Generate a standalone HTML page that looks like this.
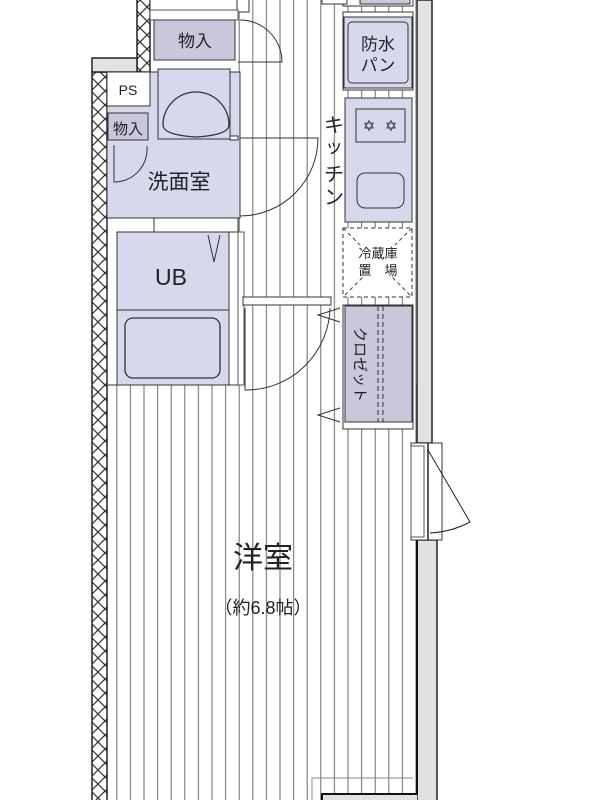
<!DOCTYPE html>
<html><head><meta charset="utf-8"><style>
html,body{margin:0;padding:0;background:#fff;}
svg{display:block}
text{font-family:"Liberation Sans","Noto Sans CJK JP",sans-serif;fill:#222}
</style></head><body>
<svg width="600" height="800" viewBox="0 0 600 800" xmlns="http://www.w3.org/2000/svg">
<defs>
<pattern id="hx" width="14" height="14" patternUnits="userSpaceOnUse">
<rect width="14" height="14" fill="#fff"/>
<path d="M0 0L14 14M14 0L0 14" stroke="#333" stroke-width="1.2"/>
</pattern>
<pattern id="st" x="2" width="13.6" height="10" patternUnits="userSpaceOnUse">
<rect width="13.6" height="10" fill="#fff"/>
<line x1="6" y1="0" x2="6" y2="10" stroke="#777" stroke-width="1.1"/>
</pattern>
</defs>
<rect x="106" y="385" width="311" height="415" fill="url(#st)"/>
<rect x="237" y="0" width="110" height="400" fill="url(#st)"/>
<rect x="340" y="0" width="76" height="800" fill="url(#st)"/>
<rect x="417" y="0" width="15" height="443" fill="#e2e2e2" stroke="#222" stroke-width="1.5"/>
<rect x="417" y="540" width="20" height="262" fill="#e2e2e2" stroke="#222" stroke-width="1.5"/>
<path d="M312 800V778H413" fill="none" stroke="#888" stroke-width="1"/>
<path d="M322 800V794H417V540" fill="none" stroke="#111" stroke-width="2"/>
<rect x="323" y="795" width="94" height="6" fill="#e2e2e2"/>
<rect x="92" y="72" width="15" height="730" fill="url(#hx)" stroke="#222" stroke-width="1.5"/>
<rect x="137" y="-2" width="13" height="74" fill="url(#hx)" stroke="#222" stroke-width="1.5"/>
<rect x="92" y="58" width="45" height="14" fill="#e2e2e2" stroke="#222" stroke-width="1.5"/>
<rect x="150" y="-2" width="87" height="12" fill="#fff" stroke="#333"/>
<rect x="237" y="-2" width="12" height="14" fill="#fff" stroke="#333"/>
<rect x="150" y="10" width="88" height="10" fill="#fff" stroke="#555"/>
<rect x="154" y="20" width="81" height="40" fill="#c9c7dc" stroke="#333"/>
<text x="195" y="47" font-size="17" text-anchor="middle">物入</text>
<path d="M240 20A42 42 0 0 1 282 62H238" fill="none" stroke="#333" stroke-width="1"/>
<rect x="107" y="72" width="43" height="34" fill="#fff" stroke="#333"/>
<text x="128" y="95" font-size="14" text-anchor="middle">PS</text>
<path d="M107 106H150V72H240V218H107Z" fill="#d6d9ec" stroke="#333"/>
<rect x="158" y="69" width="72" height="70" fill="#d6d9ec" stroke="#333"/>
<path d="M163 125A33 33 0 1 1 229 125Q229 135 196 137Q163 135 163 125Z" fill="#d6d9ec" stroke="#333" stroke-width="1.3"/>
<rect x="108" y="113" width="40" height="27" fill="#c9c7dc" stroke="#333"/>
<text x="128" y="134" font-size="15" text-anchor="middle">物入</text>
<path d="M114 145V182A33 33 0 0 0 147 146" fill="none" stroke="#333"/>
<text x="179" y="189" font-size="21" text-anchor="middle">洗面室</text>
<rect x="230" y="136" width="8" height="4" fill="#fff" stroke="#333"/>
<path d="M240 138H318A78 78 0 0 1 240 216" fill="none" stroke="#333"/>
<rect x="154" y="218" width="84" height="14" fill="#fff" stroke="#333"/>
<rect x="107" y="218" width="131" height="167" fill="none" stroke="#333"/>
<rect x="117" y="232" width="112" height="153" fill="#d6d9ec" stroke="#333"/>
<line x1="117" y1="310" x2="229" y2="310" stroke="#333"/>
<rect x="125" y="318" width="95" height="60" rx="8" fill="#d6d9ec" stroke="#333" stroke-width="1.3"/>
<path d="M208 235L214 262L220 235" fill="none" stroke="#333"/>
<text x="171" y="285" font-size="23" text-anchor="middle">UB</text>
<rect x="238" y="232" width="6" height="153" fill="#fff" stroke="#555"/>
<rect x="243" y="297" width="88" height="8" fill="#fff" stroke="#333"/>
<path d="M245 308V390A84 84 0 0 0 330 308" fill="none" stroke="#333"/>
<rect x="343" y="-2" width="70" height="8" fill="#fff" stroke="#333"/>
<rect x="322" y="-2" width="25" height="6" fill="#fff" stroke="#333"/>
<rect x="360" y="-2" width="50" height="6" fill="#c9c7dc" stroke="#333"/>
<rect x="343" y="12" width="70" height="78" fill="#fff" stroke="#333"/>
<rect x="344" y="17" width="68" height="71" fill="#d6d9ec" stroke="#333"/>
<rect x="348" y="22" width="60" height="61" rx="4" fill="#d6d9ec" stroke="#333"/>
<text x="378" y="50" font-size="17" text-anchor="middle">防水</text>
<text x="378" y="71" font-size="17" text-anchor="middle">パン</text>
<rect x="345" y="98" width="67" height="124" fill="#d6d9ec" stroke="#333"/>
<rect x="356" y="109" width="49" height="33" fill="#d6d9ec" stroke="#333"/>
<text x="369" y="131" font-size="15" text-anchor="middle">✡</text>
<text x="391" y="131" font-size="15" text-anchor="middle">✡</text>
<rect x="357" y="173" width="47" height="35" rx="8" fill="#d6d9ec" stroke="#333"/>
<text x="334" y="132" font-size="20" text-anchor="middle">キ</text>
<text x="334" y="153" font-size="18" text-anchor="middle">ッ</text>
<text x="334" y="181" font-size="20" text-anchor="middle">チ</text>
<text x="334" y="204" font-size="20" text-anchor="middle">ン</text>
<rect x="343" y="228" width="69" height="69" fill="#fff" stroke="#333" stroke-dasharray="4 3"/>
<path d="M343 228L412 297M412 228L343 297" stroke="#444" stroke-dasharray="4 3"/>
<rect x="355" y="245" width="46" height="32" fill="#fff"/>
<text x="378" y="258" font-size="13" text-anchor="middle">冷蔵庫</text>
<text x="378" y="275" font-size="13" text-anchor="middle">置　場</text>
<rect x="343" y="305" width="70" height="124" fill="#fff" stroke="#333"/>
<rect x="345" y="306" width="67" height="116" fill="#c9c7dc" stroke="#333"/>
<line x1="378" y1="306" x2="378" y2="422" stroke="#333" stroke-dasharray="5 3"/>
<line x1="383" y1="306" x2="383" y2="422" stroke="#333" stroke-dasharray="5 3"/>
<text transform="translate(355 327) rotate(90)" font-size="15">クロゼット</text>
<path d="M340 308L318 315L340 322" fill="none" stroke="#333"/>
<path d="M340 408L318 415L340 422" fill="none" stroke="#333"/>
<rect x="411" y="443" width="31" height="97" fill="#fff" stroke="#333"/>
<rect x="411" y="446" width="13" height="91" fill="#fff" stroke="#555"/>
<line x1="428" y1="443" x2="428" y2="540" stroke="#222" stroke-width="1.5"/>
<path d="M428 450L470 522A95 95 0 0 1 430 533" fill="none" stroke="#222"/>
<text x="263" y="568" font-size="30" text-anchor="middle">洋室</text>
<text x="263" y="614" font-size="18" text-anchor="middle">（約6.8帖）</text>
</svg>
</body></html>
